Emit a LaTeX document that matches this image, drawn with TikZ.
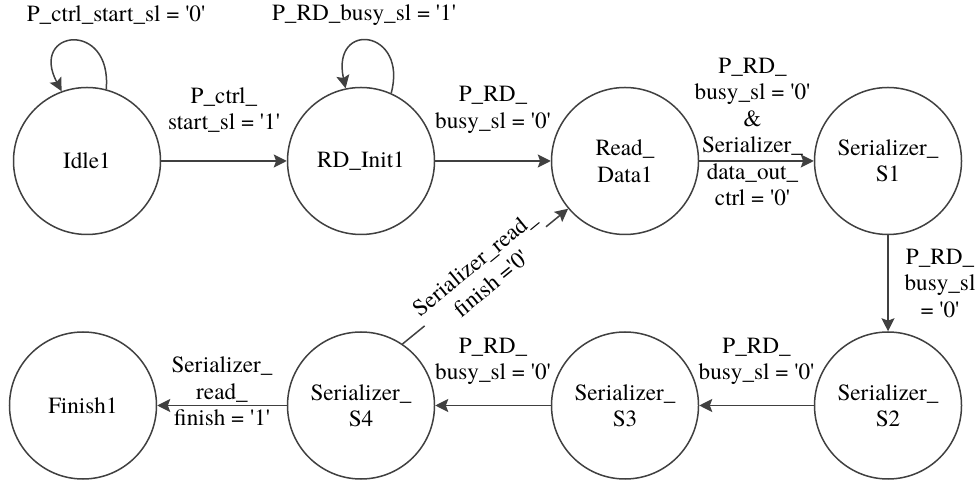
\documentclass[tikz,border=0pt]{standalone}
\usepackage{fontspec}
\setmainfont{TeX Gyre Termes}
\usetikzlibrary{arrows.meta}
\definecolor{ink}{HTML}{000000}
\definecolor{wire}{HTML}{404040}
\newcommand{\tq}{\textquotesingle}
\tikzset{
  every node/.style={font=\rmfamily\fontsize{11.6pt}{13.2pt}\selectfont, text=ink},
  fsmstate/.style={circle, draw=wire, line width=0.75pt, minimum size=73.5pt, inner sep=0pt, align=center, fill=white},
  cond/.style={align=center, inner sep=1pt},
  trans/.style={-{Stealth[length=6.5pt,width=6.5pt,inset=1.2pt]}, line width=0.75pt, draw=wire},
}

\begin{document}
\begin{tikzpicture}[x=0.5pt,y=0.5pt]
\useasboundingbox (0,0) rectangle (978,481);
% states
\node[fsmstate] (idle) at (87,320) {Idle1};
\node[fsmstate] (rdinit) at (361,320) {RD\_Init1};
\node[fsmstate] (readdata) at (625,320) {Read\_\\Data1};
\node[fsmstate] (ser1) at (888,320) {Serializer\_\\S1};
\node[fsmstate] (ser2) at (888,75.5) {Serializer\_\\S2};
\node[fsmstate] (ser3) at (625,75.5) {Serializer\_\\S3};
\node[fsmstate] (ser4) at (361,75.5) {Serializer\_\\S4};
\node[fsmstate] (finish) at (83,75.5) {Finish1};
% self loops
\draw[trans] (idle.75) .. controls +(85:70) and +(118:70) .. (idle.110);
\node[cond] (lidle) at (116,466) {P\_ctrl\_start\_sl = \tq0\tq};
\draw[trans] (rdinit.66) .. controls +(75:66) and +(102:70) .. (rdinit.102);
\node[cond] (lrdinit) at (364,466) {P\_RD\_busy\_sl = \tq1\tq};
% transitions
\draw[trans] (idle) -- node[cond, yshift=25.5pt] (c1) {P\_ctrl\_\\start\_sl = \tq1\tq} (rdinit);
\draw[trans] (rdinit) -- node[cond, yshift=25.5pt] (c2) {P\_RD\_\\busy\_sl = \tq0\tq} (readdata);
\draw[trans] (readdata) -- node[cond, yshift=14.5pt, xshift=-2pt] (c3) {P\_RD\_\\busy\_sl = \tq0\tq\\\&\\Serializer\_\\data\_out\_\\ctrl = \tq0\tq} (ser1);
\draw[trans] (ser1) -- node[cond, xshift=26pt] (c4) {P\_RD\_\\busy\_sl\\= \tq0\tq} (ser2);
\draw[trans] (ser2) -- node[cond, yshift=22pt] (c5) {P\_RD\_\\busy\_sl = \tq0\tq} (ser3);
\draw[trans] (ser3) -- node[cond, yshift=22pt] (c6) {P\_RD\_\\busy\_sl = \tq0\tq} (ser4);
\draw[trans] (ser4) -- node[cond, yshift=7pt] (c7) {Serializer\_\\read\_\\finish = \tq1\tq} (finish);
\draw[trans] (ser4.56) -- node[cond, sloped, fill=white, pos=0.5, yshift=2pt] (c8) {Serializer\_read\_\\finish =\tq0\tq} (readdata.220);
\end{tikzpicture}
\end{document}
